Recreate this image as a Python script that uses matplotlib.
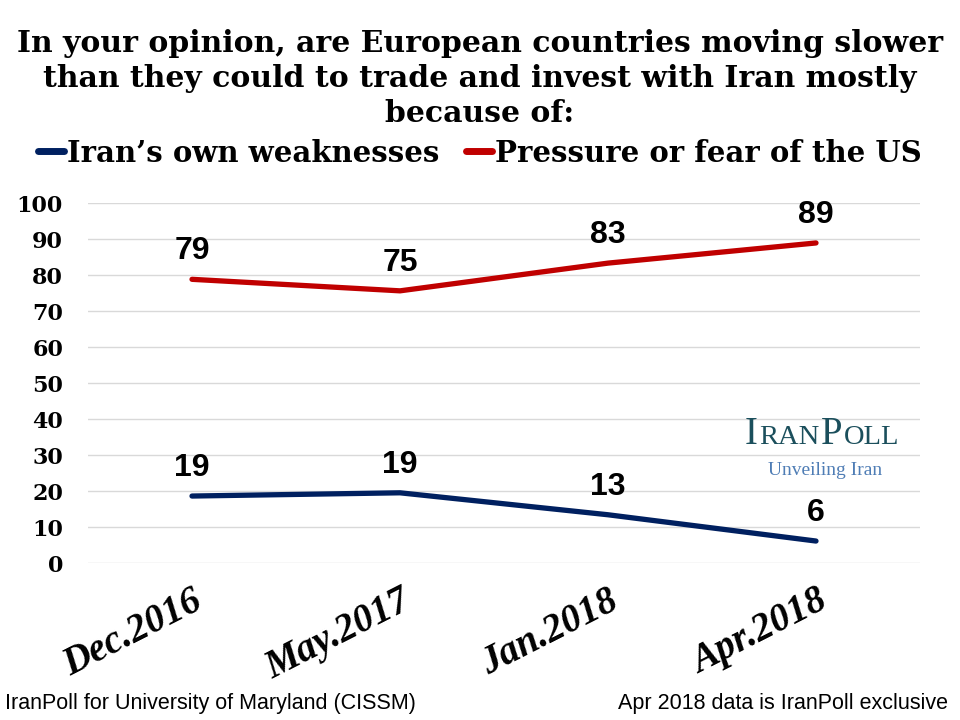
import matplotlib
matplotlib.use('Agg')
import matplotlib.pyplot as plt
import matplotlib.transforms as mtransforms
from matplotlib.lines import Line2D
from matplotlib.offsetbox import TextArea, HPacker, AnnotationBbox

# data
dates = ['Dec.2016', 'May.2017', 'Jan.2018', 'Apr.2018']
weakness = [18.6, 19.5, 13.4, 6.1]
weakness_lbl = ['19', '19', '13', '6']
pressure = [78.8, 75.6, 83.3, 88.9]
pressure_lbl = ['79', '75', '83', '89']
yticks = list(range(0, 101, 10))

blue = '#002060'
red = '#C00000'
serif = ['Liberation Serif', 'DejaVu Serif']
wide_serif = ['DejaVu Serif']

fig = plt.figure(figsize=(9.6, 7.2), dpi=100)
ax = fig.add_axes([88 / 960, 1 - 563 / 720, (920 - 88) / 960, 360 / 720])

x = list(range(len(dates)))
ax.plot(x, weakness, color=blue, lw=3.8, solid_capstyle='round', zorder=3)
ax.plot(x, pressure, color=red, lw=3.8, solid_capstyle='round', zorder=3)

# value labels above each point
for xi, v, s in zip(x, weakness, weakness_lbl):
    ax.annotate(s, (xi, v), xytext=(0, 14.5), textcoords='offset points',
                ha='center', va='baseline', fontsize=23, fontweight='bold',
                family='Liberation Sans')
for xi, v, s in zip(x, pressure, pressure_lbl):
    ax.annotate(s, (xi, v), xytext=(0, 14.5), textcoords='offset points',
                ha='center', va='baseline', fontsize=23, fontweight='bold',
                family='Liberation Sans')

ax.set_xlim(-0.5, 3.5)
ax.set_ylim(0, 100)
ax.set_yticks(yticks)
ax.set_yticklabels([str(t) for t in yticks], family='DejaVu Serif',
                   fontweight='bold', fontsize=16)
ax.set_xticks(x)
ax.set_xticklabels(dates, family='Liberation Serif', fontweight='bold',
                   fontstyle='italic', fontsize=28, rotation=27,
                   ha='right', va='top', rotation_mode='anchor')
shift = mtransforms.ScaledTranslation(4 / 100, 0, fig.dpi_scale_trans)
for lab in ax.get_xticklabels():
    lab.set_transform(lab.get_transform() + shift)
ax.tick_params(axis='y', length=0, pad=18)
ax.tick_params(axis='x', length=0, pad=14)
ax.grid(axis='y', color='#D9D9D9', lw=1)
ax.set_axisbelow(True)
for sp in ax.spines.values():
    sp.set_visible(False)

# title
fig.text(0.5, 1 - 29 / 720,
         'In your opinion, are European countries moving slower\n'
         'than they could to trade and invest with Iran mostly\n'
         'because of:',
         ha='center', va='top', fontsize=21.5, fontweight='bold',
         family=wide_serif, linespacing=1.27)

# legend
handles = [Line2D([], [], color=blue, lw=5, solid_capstyle='round'),
           Line2D([], [], color=red, lw=5, solid_capstyle='round')]
fig.legend(handles, ['Iran\u2019s own weaknesses', 'Pressure or fear of the US'],
           loc='center', bbox_to_anchor=(0.5, 1 - 153 / 720), ncol=2,
           frameon=False, handlelength=0.9, handletextpad=0.1,
           columnspacing=0.9, borderpad=0,
           prop={'family': wide_serif, 'weight': 'bold', 'size': 21})

# IranPoll logo in small caps
logo_col = '#1B4F5C'
big = dict(color=logo_col, family=serif, fontsize=28)
small = dict(color=logo_col, family=serif, fontsize=20.5)
parts = [TextArea('I', textprops=big), TextArea('RAN', textprops=small),
         TextArea('P', textprops=big), TextArea('OLL', textprops=small)]
logo = HPacker(children=parts, align='baseline', pad=0, sep=1)
fig.add_artist(AnnotationBbox(logo, (822, 720 - 435), xycoords='figure pixels',
                              frameon=False, box_alignment=(0.5, 0.5)))
fig.text(825 / 960, 1 - 475 / 720, 'Unveiling Iran', ha='center',
         va='baseline', fontsize=14, family=serif, color='#4F7DB5')

# footers
fig.text(5 / 960, 1 - 704 / 720, 'IranPoll for University of Maryland (CISSM)',
         ha='left', va='center', fontsize=15.5, family='Liberation Sans')
fig.text(948 / 960, 1 - 704 / 720, 'Apr 2018 data is IranPoll exclusive',
         ha='right', va='center', fontsize=15.5, family='Liberation Sans')

fig.savefig('out.png', dpi=100)
